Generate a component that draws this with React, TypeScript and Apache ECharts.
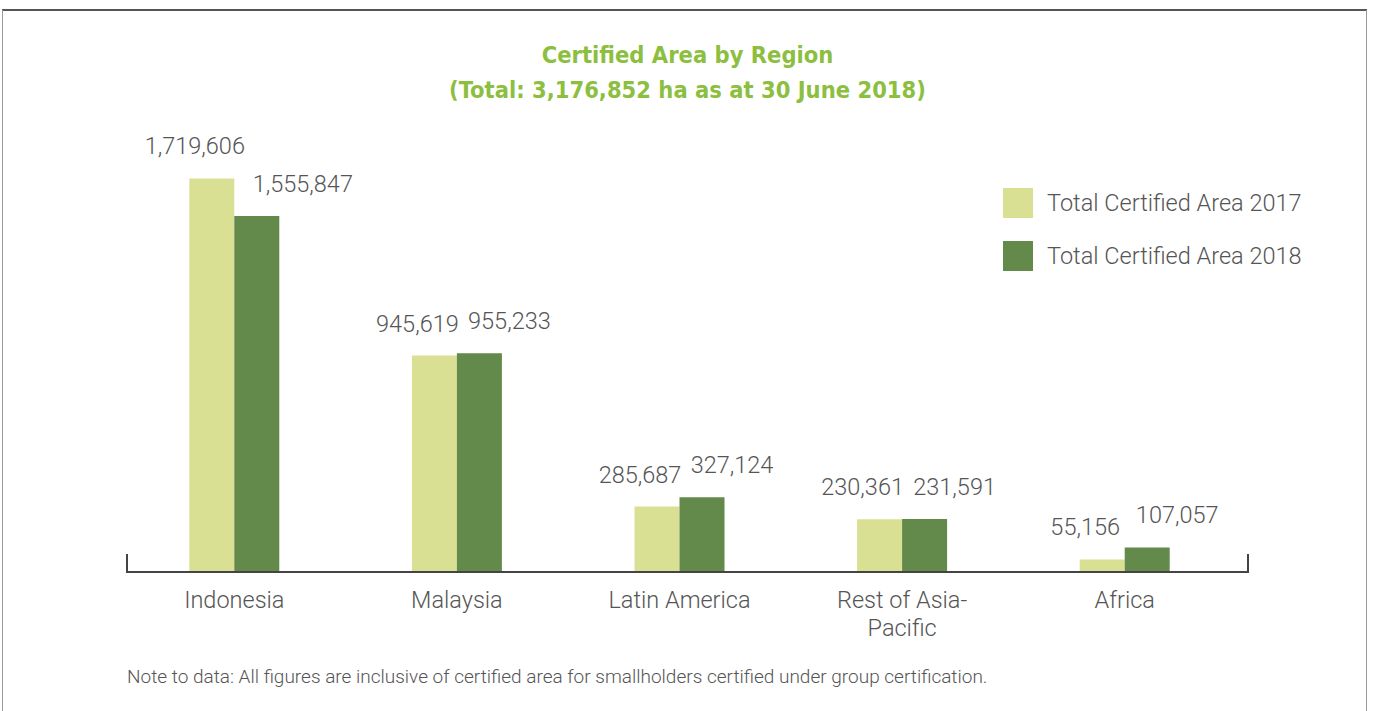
import React, { useEffect, useRef } from "react";
import * as echarts from "echarts";

const categories = ["Indonesia", "Malaysia", "Latin America", "Rest of Asia-\nPacific", "Africa"];
const area2017 = [1719606, 945619, 285687, 230361, 55156];
const area2018 = [1555847, 955233, 327124, 231591, 107057];
const seriesNames = ["Total Certified Area 2017", "Total Certified Area 2018"];
const titleLines = ["Certified Area by Region", "(Total: 3,176,852 ha as at 30 June 2018)"];
const noteText = "Note to data: All figures are inclusive of certified area for smallholders certified under group certification.";

const W = 1375;
const H = 711;
const FONT = "Roboto, 'Noto Sans', sans-serif";
const TEXT = "#555555";
const FS = 23.5;

const fmt = (v: number) => v.toLocaleString("en-US");

export default function App() {
  const ref = useRef<HTMLDivElement>(null);
  useEffect(() => {
    document.body.style.margin = "0";
    const chart = echarts.init(ref.current!, null, { renderer: "svg" });
    const gridLeft = 123;
    const gridRight = 139;
    const gridBottom = 139;
    const axisY = H - gridBottom;
    const axisX1 = 127;
    const axisX2 = 1248;
    const labelStyle = {
      show: true,
      position: "top",
      distance: 20,
      formatter: (p: any) => fmt(p.value),
      fontFamily: FONT,
      fontSize: FS,
      fontWeight: 300,
      color: TEXT,
    };
    chart.setOption({
      animation: false,
      backgroundColor: "#ffffff",
      title: {
        text: titleLines.join("\n"),
        left: "center",
        top: 32,
        textStyle: {
          fontFamily: "'DejaVu Sans Condensed', 'Liberation Sans Narrow', sans-serif",
          fontWeight: "bold",
          fontSize: 23.5,
          lineHeight: 35,
          color: "#8cbf3f",
        },
      },
      legend: {
        orient: "vertical",
        left: 998,
        top: 183,
        itemWidth: 30,
        itemHeight: 30,
        itemGap: 23,
        icon: "rect",
        selectedMode: false,
        textStyle: { fontFamily: FONT, fontSize: FS, color: TEXT, fontWeight: 300, padding: [0, 0, 0, 9] },
        data: seriesNames,
      },
      grid: { left: gridLeft, right: gridRight, bottom: gridBottom, top: 160, containLabel: false },
      xAxis: {
        type: "category",
        data: categories,
        axisLine: { show: false },
        axisTick: { show: false },
        axisLabel: {
          fontFamily: FONT,
          fontSize: FS,
          fontWeight: 300,
          color: TEXT,
          margin: 14,
          lineHeight: 28,
          interval: 0,
        },
      },
      yAxis: {
        type: "value",
        min: 0,
        max: 1800000,
        show: false,
        splitLine: { show: false },
      },
      series: [
        {
          name: seriesNames[0],
          type: "bar",
          data: area2017,
          barWidth: 45,
          barGap: "0%",
          itemStyle: { color: "#dae093" },
          label: { ...labelStyle, offset: [-17, 0] },
        },
        {
          name: seriesNames[1],
          type: "bar",
          data: area2018.map((v, i) => (i === 0 ? { value: v, label: { offset: [46, 0] } } : v)),
          barWidth: 45,
          barGap: "0%",
          itemStyle: { color: "#63894b" },
          label: { ...labelStyle, offset: [30, 0] },
        },
      ],
      graphic: [
        { type: "line", shape: { x1: 2, y1: 10, x2: 1367, y2: 10 }, style: { stroke: "#555555", lineWidth: 2 } },
        { type: "line", shape: { x1: 2.5, y1: 10, x2: 2.5, y2: H }, style: { stroke: "#9a9a9a", lineWidth: 1 } },
        { type: "line", shape: { x1: 1366.5, y1: 10, x2: 1366.5, y2: H }, style: { stroke: "#9a9a9a", lineWidth: 1 } },
        { type: "line", z: 10, shape: { x1: axisX1, y1: axisY, x2: axisX2, y2: axisY }, style: { stroke: "#444444", lineWidth: 2 } },
        { type: "line", z: 10, shape: { x1: axisX1, y1: axisY - 18, x2: axisX1, y2: axisY + 1 }, style: { stroke: "#444444", lineWidth: 2 } },
        { type: "line", z: 10, shape: { x1: axisX2, y1: axisY - 18, x2: axisX2, y2: axisY + 1 }, style: { stroke: "#444444", lineWidth: 2 } },
        {
          type: "text",
          left: 127,
          top: 667,
          style: { text: noteText, fontFamily: FONT, fontSize: 19, fontWeight: 300, fill: TEXT },
        },
      ],
    });
    return () => chart.dispose();
  }, []);
  return <div ref={ref} style={{ width: W, height: H }} />;
}
